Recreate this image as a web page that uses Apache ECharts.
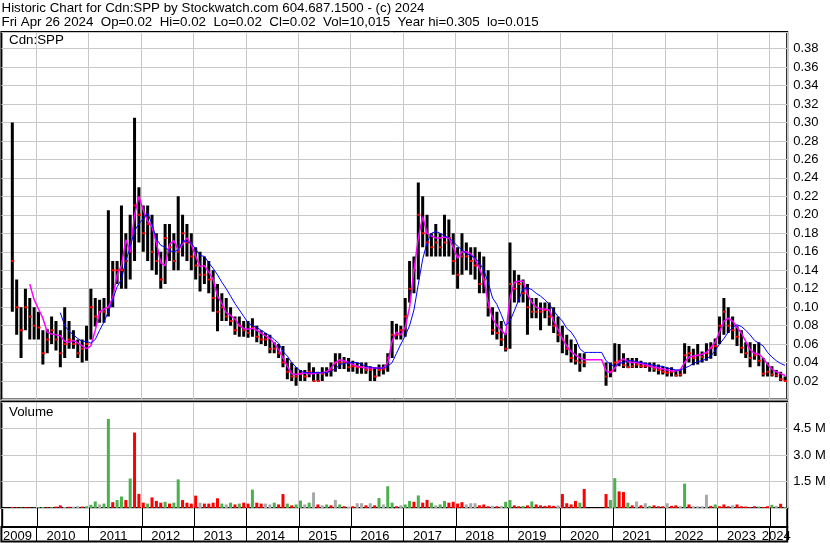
<!DOCTYPE html>
<html>
<head>
<meta charset="utf-8">
<title>Cdn:SPP historic chart</title>
<script src="https://cdn.jsdelivr.net/npm/echarts@6/dist/echarts.min.js"></script>
<style>
  html, body { margin: 0; padding: 0; background: #fff; }
  #chart { width: 830px; height: 543px; }
</style>
</head>
<body>
<div id="chart"></div>
<script>
// monthly bars, May 2009 .. Apr 2024 (one row per calendar year)
var months = [];
for (var y = 2009; y <= 2024; y++) {
  for (var m = 1; m <= 12; m++) {
    if (y === 2009 && m < 5) continue;
    if (y === 2024 && m > 4) continue;
    months.push(y + '-' + (m < 10 ? '0' + m : m));
  }
}

var high = [
  null, null, .30, .13, .10, .12, .11, .10,
  .095, .075, .076, .09, .085, .075, .10, .085, .075, .065, .065, .08,
  .12, .11, .108, .11, .205, .15, .15, .21, .18, .20, .305, .23,
  .21, .21, .20, .18, .16, .19, .19, .18, .22, .20, .19, .18,
  .165, .16, .155, .15, .14, .125, .115, .11, .10, .09, .09, .085,
  .085, .088, .08, .075, .072, .07, .062, .06, .058, .045, .04, .035,
  .032, .032, .04, .035, .03, .035, .035, .04, .05, .05, .046, .045,
  .042, .04, .04, .04, .036, .035, .038, .038, .05, .085, .082, .08,
  .11, .15, .155, .235, .22, .20, .18, .19, .18, .20, .195, .18,
  .165, .18, .17, .165, .165, .16, .155, .14, .10, .095, .085, .072,
  .17, .14, .135, .13, .125, .11, .11, .105, .105, .105, .10, .09,
  .08, .07, .065, .06, .05, .05, null, null, null, null, .04, .04,
  .061, .06, .05, .045, .045, .045, .042, .04, .04, .04, .038, .036,
  .035, .035, .032, .032, .061, .058, .055, .06, .052, .061, .062, .066,
  .09, .11, .10, .09, .08, .075, .062, .062, .06, .062, .045, .04,
  .036, .032, .03, .025
];

var low = [
  null, null, .095, .07, .045, .075, .065, .065,
  .065, .038, .05, .06, .053, .035, .045, .055, .055, .045, .04, .042,
  .065, .079, .083, .083, .09, .10, .125, .12, .12, .13, .15, .17,
  .16, .15, .14, .135, .12, .125, .15, .14, .14, .155, .15, .14,
  .13, .117, .125, .115, .095, .074, .085, .085, .08, .07, .068, .068,
  .067, .068, .062, .06, .058, .05, .05, .045, .035, .022, .02, .015,
  .02, .02, .024, .02, .02, .02, .025, .025, .03, .033, .033, .03,
  .03, .028, .028, .028, .02, .02, .025, .027, .03, .045, .065, .065,
  .068, .105, .115, .13, .165, .155, .155, .155, .155, .155, .155, .135,
  .12, .135, .14, .135, .13, .115, .115, .09, .07, .065, .058, .052,
  .055, .105, .105, .105, .07, .088, .088, .075, .088, .08, .072, .062,
  .05, .048, .04, .038, .03, .035, null, null, null, null, .015, .024,
  .03, .036, .034, .034, .034, .034, .034, .034, .03, .03, .027, .027,
  .025, .025, .025, .025, .028, .04, .037, .038, .04, .042, .044, .047,
  .06, .07, .072, .065, .058, .05, .045, .035, .043, .036, .025, .025,
  .025, .024, .02, .02
];

var close = [
  null, null, .15, .10, .075, .10, .09, .08,
  .078, .05, .065, .075, .065, .05, .06, .065, .06, .05, .055, .06,
  .10, .09, .095, .095, .10, .14, .14, .14, .15, .16, .21, .20,
  .18, .19, .16, .15, .13, .175, .165, .15, .16, .18, .17, .155,
  .145, .135, .135, .13, .11, .095, .10, .09, .085, .075, .08, .075,
  .072, .078, .068, .065, .065, .055, .055, .05, .04, .03, .025, .025,
  .028, .025, .03, .02, .02, .028, .03, .032, .04, .04, .04, .035,
  .036, .035, .035, .032, .032, .025, .032, .033, .045, .07, .07, .075,
  .09, .12, .14, .20, .18, .17, .165, .17, .165, .17, .175, .15,
  .135, .155, .155, .15, .145, .125, .13, .10, .075, .072, .065, .055,
  .125, .12, .125, .115, .10, .095, .095, .095, .097, .09, .08, .07,
  .065, .055, .045, .042, .04, .04, null, null, null, null, .025, .03,
  .04, .042, .037, .035, .036, .038, .036, .036, .036, .033, .032, .03,
  .029, .03, .026, .027, .048, .05, .045, .048, .046, .05, .056, .058,
  .08, .095, .08, .075, .068, .056, .05, .045, .048, .042, .028, .03,
  .027, .026, .022, .02
];

// short moving average (magenta)
var maShort = [
  null, null, null, null, null, null, .125, .108,
  .098, .088, .073, .071, .07, .069, .063, .062, .064, .061, .058, .055,
  .058, .075, .095, .098, .10, .11, .135, .145, .173, .16, .20, .22,
  .205, .193, .187, .17, .148, .145, .168, .172, .162, .168, .175, .168,
  .155, .144, .145, .138, .13, .112, .104, .094, .091, .087, .08, .077,
  .076, .077, .075, .072, .069, .066, .061, .054, .045, .036, .028, .027,
  .028, .029, .028, .028, .029, .029, .03, .034, .04, .043, .042, .04,
  .038, .036, .035, .034, .034, .034, .034, .034, .04, .063, .073, .07,
  .078, .10, .14, .175, .198, .18, .177, .175, .175, .176, .175, .165,
  .153, .16, .16, .158, .152, .142, .13, .105, .088, .08, .075, .07,
  .11, .127, .128, .128, .114, .105, .10, .098, .098, .097, .085, .076,
  .066, .058, .052, .048, .045, .043, .043, .043, .043, .043, .031, .029,
  .034, .041, .044, .041, .04, .04, .039, .038, .036, .035, .034, .033,
  .032, .031, .031, .032, .04, .046, .047, .048, .049, .051, .056, .062,
  .073, .085, .088, .085, .078, .072, .063, .054, .05, .049, .045, .038,
  .033, .03, .028, .026
];

// long moving average (blue)
var maLong = [
  null, null, null, null, null, null, null, null,
  null, null, null, null, null, .094, .08, .074, .07, .066, .063, .063,
  .061, .065, .075, .084, .095, .108, .122, .13, .15, .165, .183, .19,
  .196, .202, .19, .174, .167, .165, .161, .16, .162, .172, .171, .169,
  .163, .156, .155, .148, .142, .135, .127, .12, .112, .104, .097, .09,
  .083, .08, .078, .075, .072, .069, .065, .061, .052, .047, .04, .035,
  .031, .029, .029, .029, .029, .029, .029, .031, .033, .038, .039, .04,
  .04, .04, .038, .036, .035, .034, .034, .034, .036, .04, .05, .06,
  .069, .08, .097, .125, .152, .17, .18, .182, .18, .177, .175, .171,
  .166, .162, .158, .156, .153, .148, .14, .127, .11, .103, .092, .08,
  .085, .096, .108, .12, .121, .119, .115, .112, .108, .103, .096, .09,
  .085, .077, .073, .066, .055, .051, .051, .051, .051, .051, .042, .038,
  .036, .039, .04, .042, .042, .041, .04, .039, .038, .037, .036, .036,
  .034, .033, .032, .032, .034, .036, .039, .041, .042, .044, .047, .053,
  .06, .066, .073, .078, .081, .079, .075, .07, .064, .061, .058, .051,
  .046, .042, .039, .037
];

// volume in millions, and bar colour: g = up, r = down, n = unchanged
var volume = [
  null, null, .06, .04, .03, .04, .03, .02,
  .05, .06, .04, .05, .08, .15, .06, .07, .08, .10, .08, .10,
  .18, .37, .20, .25, 5.04, .33, .45, .65, .45, 1.67, 4.27, .80,
  .30, .25, .60, .40, .30, .35, .25, .30, 1.62, .45, .30, .25,
  .70, .30, .25, .25, .30, .55, .25, .20, .30, .20, .25, .30,
  .25, 1.04, .30, .25, .25, .20, .30, .20, .79, .25, .15, .20,
  .42, .20, .30, .88, .20, .15, .20, .15, .46, .20, .10, .08,
  .10, .27, .27, .15, .27, .15, .56, .20, 1.23, .30, .10, .15,
  .20, .40, .35, .71, .30, .46, .30, .15, .20, .40, .30, .35,
  .25, .33, .20, .27, .27, .15, .20, .10, .12, .10, .12, .35,
  .45, .15, .10, .12, .15, .37, .20, .15, .12, .15, .12, .15,
  .79, .27, .20, .40, .30, 1.08, null, null, null, null, .79, .45,
  1.69, .94, .90, .30, .15, .37, .15, .27, .12, .15, .10, .10,
  .27, .12, .15, .10, 1.38, .20, .10, .10, .10, .75, .12, .20,
  .10, .20, .10, .15, .20, .10, .08, .05, .10, .08, .05, .10,
  .18, .12, .24, .05
];

var volDir = [
  '', '', 'r', 'r', 'g', 'r', 'r', 'g',
  'g', 'g', 'r', 'g', 'r', 'r', 'n', 'r', 'n', 'n', 'r', 'g',
  'g', 'g', 'n', 'g', 'g', 'r', 'g', 'g', 'r', 'g', 'r', 'r',
  'r', 'g', 'r', 'r', 'r', 'g', 'r', 'g', 'g', 'r', 'r', 'r',
  'r', 'n', 'r', 'r', 'r', 'r', 'g', 'n', 'g', 'r', 'g', 'r',
  'r', 'g', 'r', 'r', 'n', 'n', 'g', 'r', 'r', 'g', 'r', 'g',
  'g', 'n', 'g', 'n', 'r', 'n', 'g', 'r', 'n', 'g', 'r', 'n',
  'r', 'n', 'n', 'r', 'n', 'r', 'g', 'n', 'g', 'g', 'r', 'n',
  'g', 'g', 'r', 'g', 'r', 'r', 'g', 'n', 'g', 'g', 'r', 'r',
  'r', 'r', 'n', 'n', 'n', 'r', 'r', 'r', 'n', 'r', 'n', 'g',
  'g', 'r', 'r', 'g', 'r', 'g', 'r', 'r', 'r', 'r', 'r', 'n',
  'r', 'r', 'r', 'r', 'g', 'r', '', '', '', '', 'r', 'g',
  'g', 'r', 'r', 'g', 'r', 'n', 'r', 'n', 'g', 'r', 'r', 'r',
  'n', 'r', 'r', 'n', 'g', 'r', 'n', 'n', 'n', 'n', 'r', 'g',
  'r', 'r', 'r', 'n', 'r', 'r', 'r', 'r', 'r', 'g', 'r', 'r',
  'g', 'n', 'r', 'g'
];

var priceTicks = [0.02, 0.04, 0.06, 0.08, 0.10, 0.12, 0.14, 0.16, 0.18, 0.20,
  0.22, 0.24, 0.26, 0.28, 0.30, 0.32, 0.34, 0.36, 0.38];
var volumeTicks = [1.5, 3.0, 4.5];

var FONT = '"Liberation Sans", Arial, sans-serif';
var dirColor = { g: '#4cb04c', r: '#ff0000', n: '#a8a8a8' };

// January boundaries and where each year label sits
function isJan(i) { return months[i] && months[i].slice(5) === '01'; }
function isYearLabel(i) {
  var mm = months[i].slice(5), yy = months[i].slice(0, 4);
  if (yy === '2009') return mm === '08';
  if (yy === '2024') return mm === '02';
  return mm === '06';
}

var priceData = [];
for (var i = 0; i < months.length; i++) {
  if (high[i] != null) priceData.push([i, high[i], low[i], close[i]]);
}
var volData = volume.map(function (v, i) {
  if (v == null) return '-';
  return { value: v, itemStyle: { color: dirColor[volDir[i]] } };
});
function gaps(arr) { return arr.map(function (v) { return v == null ? '-' : v; }); }

var gridPos = { left: 1.4, width: 785.8, show: true, borderColor: '#000', borderWidth: 2 };
function grid(top, height) {
  return Object.assign({ top: top, height: height }, gridPos);
}

function xAxis(idx, lineColor, labels) {
  return {
    type: 'category', gridIndex: idx, data: months, boundaryGap: true,
    axisLine: { show: false }, axisTick: { show: false },
    axisLabel: labels ? {
      show: true, interval: function (i) { return isYearLabel(i); },
      formatter: function (v) { return v.slice(0, 4); },
      color: '#000', fontSize: 13, fontFamily: FONT, margin: 3
    } : { show: false },
    splitLine: { show: true, interval: function (i) { return isJan(i); },
      lineStyle: { color: lineColor, width: 1 } }
  };
}

var chart = echarts.init(document.getElementById('chart'), null, { renderer: 'canvas' });
chart.setOption({
  animation: false,
  backgroundColor: '#fff',
  textStyle: { fontFamily: FONT },
  title: [
    { text: 'Historic Chart for Cdn:SPP by Stockwatch.com 604.687.1500 - (c) 2024',
      left: 1.5, top: 1.5, padding: 0,
      textStyle: { fontSize: 13.33, fontWeight: 'normal', color: '#000', fontFamily: FONT } },
    { text: 'Fri Apr 26 2024  Op=0.02  Hi=0.02  Lo=0.02  Cl=0.02  Vol=10,015  Year hi=0.305  lo=0.015',
      left: 1.5, top: 15.5, padding: 0,
      textStyle: { fontSize: 13.33, fontWeight: 'normal', color: '#000', fontFamily: FONT } },
    { text: 'Cdn:SPP', left: 9, top: 34, padding: 0,
      textStyle: { fontSize: 13.33, fontWeight: 'normal', color: '#000', fontFamily: FONT } },
    { text: 'Volume', left: 9, top: 406, padding: 0,
      textStyle: { fontSize: 13.33, fontWeight: 'normal', color: '#000', fontFamily: FONT } }
  ],
  grid: [grid(32, 367.5), grid(402, 106), grid(508, 19), grid(527, 14.5)],
  xAxis: [
    xAxis(0, '#c8c8c8', false),
    xAxis(1, '#c8c8c8', false),
    xAxis(2, '#000', true),
    xAxis(3, '#000', false)
  ],
  yAxis: [
    { type: 'value', gridIndex: 0, position: 'right', min: 0, max: 0.398, interval: 0.02,
      axisLine: { show: false }, axisTick: { show: false },
      axisLabel: { color: '#000', fontSize: 13, fontFamily: FONT, margin: 6,
        formatter: function (v) {
          for (var k = 0; k < priceTicks.length; k++) {
            if (Math.abs(priceTicks[k] - v) < 1e-6) return priceTicks[k].toFixed(2);
          }
          return '';
        } },
      splitLine: { show: true, lineStyle: { color: '#c8c8c8', width: 1 } } },
    { type: 'value', gridIndex: 1, position: 'right', min: 0, max: 6, interval: 1.5,
      axisLine: { show: false }, axisTick: { show: false },
      axisLabel: { color: '#000', fontSize: 13, fontFamily: FONT, margin: 6,
        formatter: function (v) {
          for (var k = 0; k < volumeTicks.length; k++) {
            if (Math.abs(volumeTicks[k] - v) < 1e-6) return volumeTicks[k].toFixed(1) + ' M';
          }
          return '';
        } },
      splitLine: { show: true, lineStyle: { color: '#c8c8c8', width: 1 } } },
    { type: 'value', gridIndex: 2, show: false },
    { type: 'value', gridIndex: 3, show: false }
  ],
  series: [
    {
      name: 'price', type: 'custom', xAxisIndex: 0, yAxisIndex: 0, clip: true,
      encode: { x: 0, y: [1, 2, 3] },
      data: priceData,
      renderItem: function (params, api) {
        var idx = api.value(0);
        var pH = api.coord([idx, api.value(1)]);
        var pL = api.coord([idx, api.value(2)]);
        var pC = api.coord([idx, api.value(3)]);
        return {
          type: 'group',
          children: [
            { type: 'rect', shape: { x: pH[0] - 1.5, y: pH[1], width: 3, height: Math.max(1, pL[1] - pH[1]) },
              style: { fill: '#000' } },
            { type: 'rect', shape: { x: pC[0] - 1, y: pC[1] - 1, width: 3, height: 2 },
              style: { fill: '#ff0000' } }
          ]
        };
      }
    },
    { name: 'ma short', type: 'line', xAxisIndex: 0, yAxisIndex: 0, data: gaps(maShort),
      symbol: 'none', lineStyle: { color: '#ff00ff', width: 1.5 }, z: 3 },
    { name: 'ma long', type: 'line', xAxisIndex: 0, yAxisIndex: 0, data: gaps(maLong),
      symbol: 'none', lineStyle: { color: '#0000ff', width: 1 }, z: 3 },
    { name: 'volume', type: 'bar', xAxisIndex: 1, yAxisIndex: 1, data: volData,
      barWidth: 3 }
  ]
});
</script>
</body>
</html>
